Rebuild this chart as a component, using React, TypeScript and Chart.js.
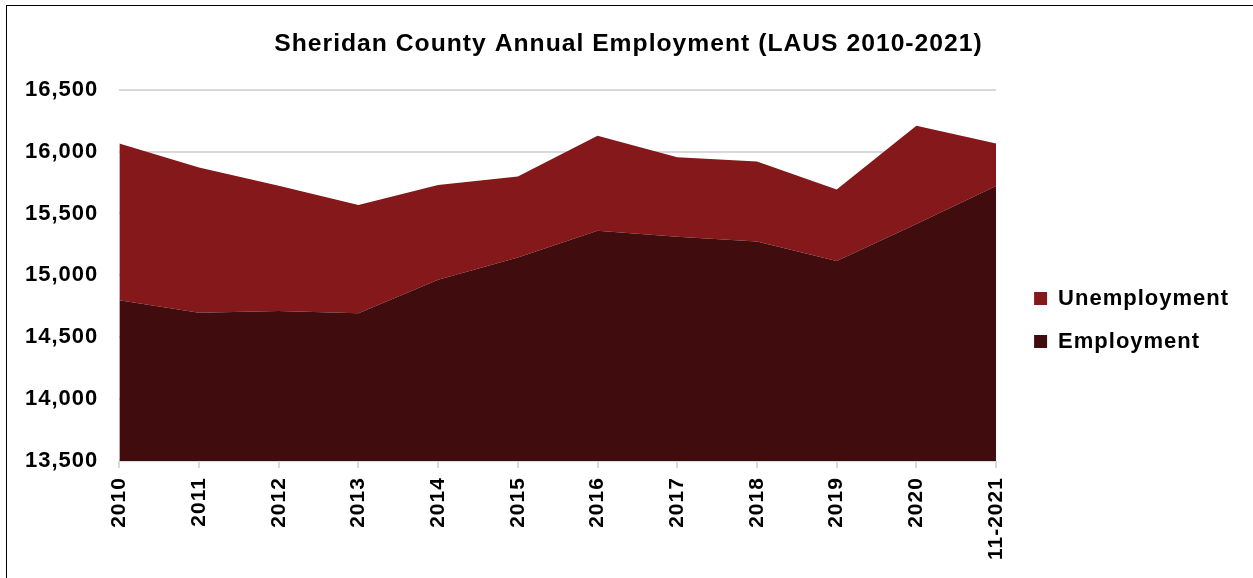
import React, { useEffect, useRef } from "react";
import { Chart, registerables } from "chart.js";

Chart.register(...registerables);

const years = ["2010", "2011", "2012", "2013", "2014", "2015", "2016", "2017", "2018", "2019", "2020", "11-2021"];
const employment = [14799, 14699, 14713, 14694, 14964, 15144, 15360, 15311, 15274, 15117, 15414, 15721];
const unemployment = [1267, 1173, 1011, 874, 765, 655, 768, 642, 646, 577, 795, 345];
const yTicks = [13500, 14000, 14500, 15000, 15500, 16000, 16500];

const FONT = "'Liberation Sans', Arial, sans-serif";

const spacingPlugin = {
  id: "letterSpacing",
  beforeLayout(chart: any) {
    chart.ctx.letterSpacing = "1px";
  },
  afterLayout(chart: any) {
    const lg = chart.legend;
    if (lg) {
      lg.left -= 14;
      lg.right -= 14;
    }
  },
  beforeDraw(chart: any) {
    chart.ctx.letterSpacing = "1px";
  },
};

export default function App() {
  const ref = useRef<HTMLCanvasElement | null>(null);

  useEffect(() => {
    if (!ref.current) return;
    const chart = new Chart(ref.current, {
      type: "line",
      data: {
        labels: years,
        datasets: [
          {
            label: "Employment",
            data: employment,
            backgroundColor: "#410C0D",
            borderColor: "#410C0D",
            borderWidth: 0,
            pointRadius: 0,
            fill: "start",
            tension: 0,
          },
          {
            label: "Unemployment",
            data: unemployment,
            backgroundColor: "#84181A",
            borderColor: "#84181A",
            borderWidth: 0,
            pointRadius: 0,
            fill: "-1",
            tension: 0,
          },
        ],
      },
      options: {
        animation: false,
        responsive: false,
        layout: { padding: { top: 0, left: 4, right: 0, bottom: 9 } },
        plugins: {
          title: {
            display: true,
            text: "Sheridan County Annual Employment (LAUS 2010-2021)",
            color: "#000",
            font: { family: FONT, size: 24.7, weight: "bold" },
            padding: { top: 29, bottom: 31 },
          },
          legend: {
            position: "right",
            reverse: true,
            maxWidth: 400,
            title: {
              display: true,
              text: " ",
              font: { family: FONT, size: 10 },
              padding: { top: 29.5, bottom: 29.5 },
            },
            labels: {
              color: "#000",
              font: { family: FONT, size: 22, weight: "bold" },
              boxWidth: 13,
              boxHeight: 13,
              padding: 21,
            },
          },
          tooltip: { enabled: false },
        },
        scales: {
          x: {
            grid: {
              display: true,
              drawOnChartArea: false,
              drawTicks: true,
              tickLength: 7,
              color: "#d9d9d9",
              lineWidth: 2,
            },
            border: { display: false },
            ticks: {
              color: "#000",
              font: { family: FONT, size: 21, weight: "bold" },
              minRotation: 90,
              maxRotation: 90,
              padding: 9,
              autoSkip: false,
            },
          },
          y: {
            stacked: true,
            min: 13500,
            max: 16500,
            afterBuildTicks: (scale: any) => {
              scale.ticks = yTicks.map((v) => ({ value: v }));
            },
            grid: { color: "#d9d9d9", lineWidth: 2, drawTicks: false },
            border: { display: false },
            ticks: {
              color: "#000",
              font: { family: FONT, size: 22, weight: "bold" },
              padding: 21,
              callback: (v: any) => Number(v).toLocaleString("en-US"),
            },
          },
          y2: {
            position: "right",
            display: true,
            grid: { display: false },
            border: { display: false },
            ticks: { display: false },
            afterFit: (scale: any) => {
              scale.width = 31;
            },
          },
        },
      },
      plugins: [spacingPlugin],
    });
    return () => chart.destroy();
  }, []);

  return (
    <div style={{ position: "fixed", left: 0, top: 0, width: 1253, height: 578, overflow: "hidden", background: "#fff" }}>
      <div
        style={{
          position: "absolute",
          left: 6,
          top: 5,
          width: 1400,
          height: 800,
          border: "1px solid #000",
          boxSizing: "border-box",
        }}
      />
      <canvas ref={ref} width={1253} height={578} style={{ position: "absolute", left: 0, top: 0, width: 1253, height: 578 }} />
    </div>
  );
}
